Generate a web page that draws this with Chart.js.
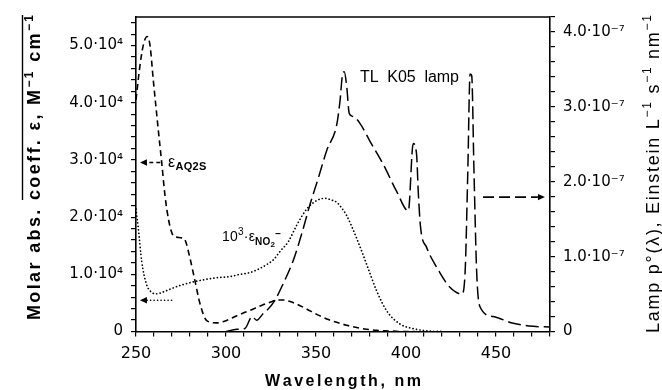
<!DOCTYPE html>
<html lang="en">
<head>
<meta charset="UTF-8">
<title>AQ2S, nitrite and TL K05 lamp spectra</title>
<script src="https://cdn.jsdelivr.net/npm/chart.js"></script>
<style>
    body { margin: 0; background: #fff; }
    canvas { display: block; }
</style>
</head>
<body>
<canvas id="spec" width="662" height="390"></canvas>
<script>
// AQ2S molar absorption coefficient (M-1 cm-1)
const wlAQ2S = [250, 252, 254, 256.2, 257.8, 259.6, 262.4, 264.3, 266.1, 268, 270.4, 272.6, 275, 277.2, 280, 282.8, 285.6, 289.3, 294.8, 300, 307, 313.3, 320, 324.4, 328.5, 332, 336, 339.3, 345, 350.4, 356, 361.5, 367, 372.6, 378, 383.7, 390, 398, 405];
const epsAQ2S = [40500, 46000, 50000, 51600, 50000, 44000, 35200, 29500, 23800, 19700, 16900, 16500, 16400, 16000, 12800, 8800, 4800, 1900, 1500, 1900, 2900, 3700, 4600, 5100, 5500, 5500, 5200, 4800, 3900, 3000, 2200, 1600, 1100, 700, 400, 200, 100, 0, 0];

// nitrite, plotted as 10^3 * epsilon
const wlNO2 = [250, 251.3, 253.2, 255.9, 258.5, 261.5, 265, 268.9, 275, 283.7, 294.8, 302, 307.8, 313.3, 318, 322.6, 326.5, 330, 334.6, 339.3, 344.8, 350.4, 355, 358.5, 361.5, 364.5, 367, 372.6, 378.2, 383.7, 389.3, 396.7, 404, 412, 420];
const epsNO2x1000 = [21400, 18000, 12200, 8200, 6900, 6600, 6900, 7400, 8100, 8800, 9400, 9600, 10000, 10300, 10900, 11700, 12600, 14000, 15700, 18600, 21400, 22900, 23300, 23000, 22600, 21500, 20300, 16300, 11700, 7100, 3600, 1300, 500, 100, 0];

// TL K05 lamp spectral photon flux (Einstein L-1 s-1 nm-1)
const wlLamp = [300, 306, 310.5, 314.5, 317, 320.7, 322.6, 327, 331.8, 337.4, 342, 346.7, 351.3, 356, 361.5, 363.3, 364.8, 365.7, 367, 368.5, 370.7, 374.4, 380, 387.4, 394.8, 401.3, 404, 405.9, 406.8, 408.1, 411.5, 417, 424.4, 431, 432.8, 434.3, 435.6, 436.5, 437.8, 439.3, 441.1, 448.5, 459.6, 470.7, 480];
const lampP0 = [0, 0.03e-7, 0.04e-7, 0.20e-7, 0.15e-7, 0.24e-7, 0.28e-7, 0.41e-7, 0.64e-7, 0.95e-7, 1.30e-7, 1.70e-7, 2.05e-7, 2.42e-7, 2.76e-7, 3.07e-7, 3.44e-7, 3.47e-7, 3.29e-7, 2.91e-7, 2.87e-7, 2.78e-7, 2.54e-7, 2.23e-7, 1.87e-7, 1.61e-7, 2.51e-7, 2.36e-7, 1.87e-7, 1.39e-7, 1.12e-7, 0.86e-7, 0.59e-7, 0.50e-7, 0.77e-7, 2.10e-7, 3.44e-7, 3.42e-7, 2.10e-7, 0.77e-7, 0.33e-7, 0.20e-7, 0.11e-7, 0.07e-7, 0.06e-7];

// tick labels
const xTickValues = [250, 300, 350, 400, 450];
const leftTickValues = [0, 1e4, 2e4, 3e4, 4e4, 5e4];
const leftTickText = ['0', '1.0·10⁴', '2.0·10⁴', '3.0·10⁴', '4.0·10⁴', '5.0·10⁴'];
const rightTickValues = [0, 1e-7, 2e-7, 3e-7, 4e-7];
const rightTickText = ['0', '1.0·10⁻⁷', '2.0·10⁻⁷', '3.0·10⁻⁷', '4.0·10⁻⁷'];

const zip = (xs, ys) => xs.map((x, i) => ({ x: x, y: ys[i] }));
const pick = (vals, texts, v, tol) => {
    const i = vals.findIndex(t => Math.abs(t - v) < tol);
    return i < 0 ? '' : texts[i];
};

const FONT = '"Liberation Sans", Arial, sans-serif';
const fontOf = p => (p[2] ? 'bold ' : '') + p[1] + 'px ' + FONT;

// rich text drawn char by char so it can be letter-spaced
function measureParts(ctx, parts) {
    let w = 0, n = 0;
    parts.forEach(p => {
        ctx.font = fontOf(p);
        for (const ch of p[0]) { w += ctx.measureText(ch).width; n++; }
    });
    return { w, n };
}
function drawParts(ctx, parts, x, y, sp) {
    let cx = x;
    const starts = [];
    parts.forEach(p => {
        starts.push(cx);
        ctx.font = fontOf(p);
        for (const ch of p[0]) {
            ctx.fillText(ch, cx, y + (p[3] || 0));
            cx += ctx.measureText(ch).width + sp;
        }
    });
    starts.push(cx - sp);
    return starts;
}
function fitted(ctx, parts, target) {
    const m = measureParts(ctx, parts);
    return (target - m.w) / (m.n - 1);
}

function arrow(ctx, x1, y, x2, dash, round) {
    const dir = Math.sign(x2 - x1), head = 7;
    ctx.save();
    ctx.lineWidth = 1.6;
    ctx.setLineDash(dash);
    ctx.lineCap = round ? 'round' : 'butt';
    ctx.beginPath();
    ctx.moveTo(x1, y);
    ctx.lineTo(x2 - dir * head, y);
    ctx.stroke();
    ctx.setLineDash([]);
    ctx.beginPath();
    ctx.moveTo(x2, y);
    ctx.lineTo(x2 - dir * head, y - 3.2);
    ctx.lineTo(x2 - dir * head, y + 3.2);
    ctx.closePath();
    ctx.fill();
    ctx.restore();
}

const decor = {
    id: 'decor',
    afterDraw(chart) {
        const { ctx, chartArea: a } = chart;
        const { x, y, y2 } = chart.scales;
        ctx.save();
        ctx.fillStyle = '#000';
        ctx.strokeStyle = '#000';
        ctx.textBaseline = 'alphabetic';

        // top edge of the frame
        ctx.lineWidth = 1.5;
        ctx.beginPath();
        ctx.moveTo(a.left, a.top);
        ctx.lineTo(a.right, a.top);
        ctx.stroke();

        // x title
        const xt = [['Wavelength, nm', 16, true]];
        const xsp = fitted(ctx, xt, 156);
        drawParts(ctx, xt, (a.left + a.right) / 2 - 78, 385.5, xsp);

        // left title with overline
        const lt = [['Molar abs. ', 18, true], ['coeff. ε, M', 18, true], ['−1', 12, true, -7.5], [' cm', 18, true], ['−1', 12, true, -7.5]];
        const lsp = fitted(ctx, lt, 305);
        ctx.save();
        ctx.translate(40, 167.5);
        ctx.rotate(-Math.PI / 2);
        const ls = drawParts(ctx, lt, -152.5, 0, lsp);
        ctx.lineWidth = 1.4;
        ctx.beginPath();
        ctx.moveTo(ls[1], -17.5);
        ctx.lineTo(ls[ls.length - 1], -17.5);
        ctx.stroke();
        ctx.restore();

        // right title
        const rt = [['Lamp p°(λ), Einstein L', 18, false], ['−1', 12, false, -8], [' s', 18, false], ['−1', 12, false, -8], [' nm', 18, false], ['−1', 12, false, -8]];
        const rsp = fitted(ctx, rt, 318);
        ctx.save();
        ctx.translate(659, 174);
        ctx.rotate(-Math.PI / 2);
        drawParts(ctx, rt, -159, 0, rsp);
        ctx.restore();

        // AQ2S label and arrow
        const ya = y.getPixelForValue(29550);
        arrow(ctx, x.getPixelForValue(263.5), ya, x.getPixelForValue(252.2), [4, 3], false);
        drawParts(ctx, [['ε', 16, false], ['AQ2S', 11, true, 3.5]], x.getPixelForValue(267.8), ya + 4, 0.3);

        // nitrite label and arrow
        const yn = y.getPixelForValue(15860);
        drawParts(ctx, [['10', 14, false], ['3', 10, false, -6], ['·', 14, false], ['ε', 14, false], ['NO', 10, true, 4], ['2', 8, true, 6], ['−', 10, true, -4]], x.getPixelForValue(297.8), yn, 0.2);
        arrow(ctx, x.getPixelForValue(269.8), y.getPixelForValue(5460), x.getPixelForValue(252.2), [0.1, 3.4], true);

        // lamp label and arrow
        const ll = [['TL  K05  lamp', 16, false]];
        drawParts(ctx, ll, x.getPixelForValue(374.4), y2.getPixelForValue(3.33e-7), fitted(ctx, ll, 99));
        arrow(ctx, x.getPixelForValue(442.8), y2.getPixelForValue(1.795e-7), x.getPixelForValue(477.2), [11, 5], false);

        ctx.restore();
    }
};

const axisStyle = {
    grid: { drawOnChartArea: false, drawTicks: true, tickLength: 5, color: '#000', lineWidth: 1.2 },
    border: { color: '#000', width: 1.6 }
};
const tickFont = { family: '"DejaVu Sans", sans-serif', size: 15 };

// evenly spaced minor ticks from 0 up to the last whole step below max
const minorTicks = (step, last) => s => {
    s.ticks = [];
    for (let i = 0; i * step <= last * (1 + 1e-9); i++) s.ticks.push({ value: i * step });
};

new Chart(document.getElementById('spec'), {
    type: 'line',
    data: {
        datasets: [
            {
                label: 'TL K05 lamp',
                data: zip(wlLamp, lampP0),
                yAxisID: 'y2',
                borderColor: '#000',
                borderWidth: 1.5,
                borderDash: [13, 5],
                cubicInterpolationMode: 'monotone'
            },
            {
                label: 'AQ2S',
                data: zip(wlAQ2S, epsAQ2S),
                yAxisID: 'y',
                borderColor: '#000',
                borderWidth: 1.6,
                borderDash: [6, 4],
                cubicInterpolationMode: 'monotone'
            },
            {
                label: 'NO2-',
                data: zip(wlNO2, epsNO2x1000),
                yAxisID: 'y',
                borderColor: '#000',
                borderWidth: 1.7,
                borderDash: [0.1, 3.4],
                borderCapStyle: 'round',
                cubicInterpolationMode: 'monotone'
            }
        ]
    },
    options: {
        responsive: false,
        animation: false,
        devicePixelRatio: 1,
        layout: { padding: { top: 14, left: 0, right: 0, bottom: 0 } },
        elements: { point: { radius: 0 } },
        plugins: { legend: { display: false }, tooltip: { enabled: false } },
        scales: {
            x: {
                type: 'linear',
                position: 'bottom',
                min: 250,
                max: 480,
                ...axisStyle,
                ticks: {
                    stepSize: 10,
                    autoSkip: false,
                    maxRotation: 0,
                    padding: 8,
                    color: '#000',
                    font: { family: '"DejaVu Sans", sans-serif', size: 16 },
                    callback: v => xTickValues.includes(v) ? String(v) : ''
                },
                afterFit: s => { s.height = 58.5; }
            },
            y: {
                type: 'linear',
                position: 'left',
                min: 0,
                max: 55000,
                ...axisStyle,
                ticks: {
                    autoSkip: false,
                    padding: 8,
                    color: '#000',
                    font: tickFont,
                    callback: v => pick(leftTickValues, leftTickText, v, 1)
                },
                afterBuildTicks: minorTicks(2000, 54000),
                afterFit: s => { s.width = 136; }
            },
            y2: {
                type: 'linear',
                position: 'right',
                min: 0,
                max: 4.2e-7,
                ...axisStyle,
                ticks: {
                    autoSkip: false,
                    padding: 8,
                    color: '#000',
                    font: tickFont,
                    callback: v => pick(rightTickValues, rightTickText, v, 1e-12)
                },
                afterBuildTicks: minorTicks(2e-8, 4.2e-7),
                afterFit: s => { s.width = 112; }
            }
        }
    },
    plugins: [decor]
});
</script>
</body>
</html>
